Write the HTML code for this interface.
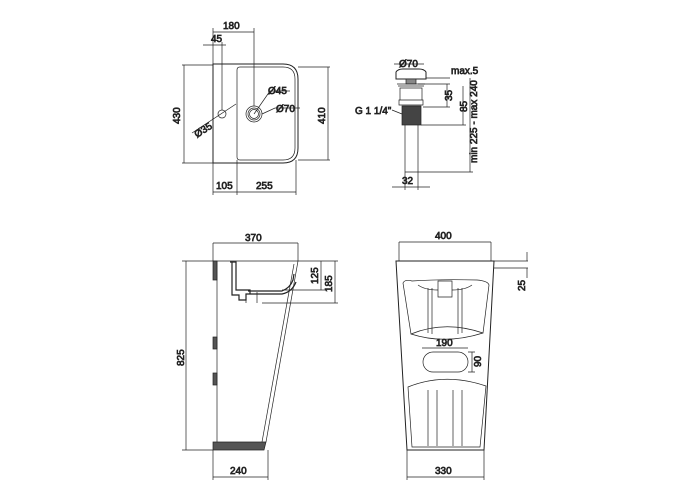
<!DOCTYPE html>
<html><head><meta charset="utf-8"><style>
body{margin:0;background:#fff}
svg{display:block}
text{font-family:"Liberation Sans",sans-serif;font-size:10px;fill:#222}
</style></head><body>
<svg width="700" height="500" viewBox="0 0 700 500" xmlns="http://www.w3.org/2000/svg" fill="none" stroke="#222" stroke-width="0.7">
<!-- TOP LEFT -->
<path d="M213 64 H283 Q298 64 298 79 V148 Q298 163 283 163 H213 Z" stroke-width="1"/>
<path d="M240 67 H283 Q295 67 295 79 V148 Q295 160 283 160 H240 Q237 160 237 157 V70 Q237 67 240 67 Z"/>
<circle cx="254" cy="114" r="8"/><circle cx="254" cy="114" r="6"/><circle cx="254" cy="114" r="4.5"/>
<circle cx="222" cy="114" r="4"/>
<path d="M213 28 V64 M254 28 V106 M213 32 H254 M203 45 H226 M222 42 V110 M182 65 H213 M182 163 H213 M184 65 V163 M298 67 H330 M298 160 H330 M328 67 V160 M213 163 V195 M237 160 V195 M296 160 V195 M213 192 H296 M192 133 L236 104 M254 114 L270 91 H290 M262 114 L275 108 H300"/>
<text x="223" y="29">180</text><text x="211" y="42">45</text>
<text transform="translate(180 124) rotate(-90)">430</text>
<text transform="translate(325 124) rotate(-90)">410</text>
<text x="216" y="189">105</text><text x="256" y="189">255</text>
<text transform="translate(197 138) rotate(-33)">Ø35</text>
<text x="268" y="94">Ø45</text><text x="276" y="112">Ø70</text>
<!-- TOP RIGHT drain -->
<path d="M396 79 V72 Q398 69 403 69 H419 Q424 69 426 72 V79 Z" stroke-width="1"/>
<rect x="406" y="79" width="10" height="5" fill="#888"/>
<path d="M397 84 H425 M398 86 H424 M400 88 H422 V100 H400 Z M399 100 H423 V105 H399 Z"/>
<rect x="402" y="106" width="19" height="19" fill="#444"/>
<path d="M405 125 V172 H418 V125 M405 172 V190 M418 172 V190 M392 187 H430 M394 64 H424 M426 78 H450 M418 84 H450 M421 125 H466 M418 172 H473 M447 84 V107 M463 86 V125 M470 78 V172 M392 110 L402 114 M423 107 H450"/>
<text x="399" y="67">Ø70</text><text x="451" y="74">max.5</text>
<text x="402" y="184">32</text>
<text x="355" y="114">G 1 1/4"</text>
<text transform="translate(452 101) rotate(-90)">35</text>
<text transform="translate(467 112) rotate(-90)">85</text>
<text transform="translate(477 163) rotate(-90)">min 225 - max 240</text>
<!-- BOTTOM LEFT -->
<path d="M213 261 H298 L266 442 M294 264 L262 442 M217 261 V442 M213 243 V261 M298 243 V261 M213 243 H298 M182 261 H213 M182 450 H213 M186 261 V450 M213 450 V480 M268 450 V480 M213 477 H268 M298 261 H338 M282 290 H325 M262 303 H338 M321 261 V290 M335 261 V303"/>
<rect x="213" y="261" width="4" height="19" fill="#555"/>
<rect x="213" y="337" width="4" height="12" fill="#555"/>
<rect x="213" y="373" width="4" height="12" fill="#555"/>
<path d="M213 442 H266 L264 450 H213 Z" fill="#555"/>
<path d="M230 262 H236 V290 H250 V294 H246 V300 H239 V295 H232 V262 M236 262 V290 M248 291 H282 Q290 288 293 280 L294 274 M250 294 H282 Q292 292 296 282" stroke-width="1.2"/>
<path d="M246 300 V303 M257 292 V303"/>
<text x="245" y="241">370</text>
<text transform="translate(184 366) rotate(-90)">825</text>
<text x="230" y="474">240</text>
<text transform="translate(318 284) rotate(-90)">125</text>
<text transform="translate(332 292) rotate(-90)">185</text>
<!-- BOTTOM RIGHT -->
<path d="M396 261 H494 L484 450 H407 Z" stroke-width="1"/>
<path d="M399 242 V261 M491 242 V261 M399 242 H491 M407 450 V480 M484 450 V480 M407 477 H484 M494 261 H528 M494 268 H528 M527 252 V261 M527 268 V278"/>
<path d="M403 283 Q405 279 412 281 Q440 279 477 280 Q488 281 489 285 L483 333 Q445 320 411 334 Z"/>
<path d="M411 334 Q445 345 483 333 M408 387 Q445 372 486 386 L480 447 H412 Z"/>
<path d="M438 281 H452 V297 H438 Z M418 285 Q425 290 438 290 M452 290 Q465 290 472 285"/>
<path d="M428 288 V333 M432 288 V334 M458 288 V334 M462 288 V333 M428 390 V446 M437 390 V446 M453 390 V446 M462 390 V446"/>
<rect x="423" y="352" width="45" height="20" rx="10"/>
<path d="M422 348 H468 M472 352 V372 M468 352 H475 M468 372 H475"/>
<text x="436" y="346">190</text>
<text transform="translate(481 367) rotate(-90)">90</text>
<text x="435" y="239">400</text>
<text x="435" y="474">330</text>
<text transform="translate(525 291) rotate(-90)">25</text>
</svg>
</body></html>
